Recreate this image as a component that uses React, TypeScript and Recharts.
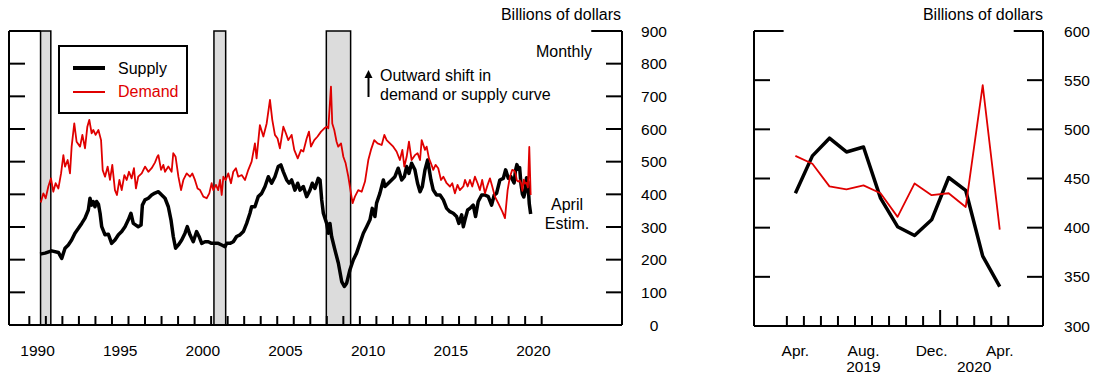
import { LineChart, Line, XAxis, YAxis, ReferenceArea, ReferenceLine } from 'recharts'

const FONT = '"Liberation Sans", Arial, Helvetica, sans-serif'
const RED = '#e00000'

// monthly history: [decimal year, billions of dollars]
const supplyHistory: [number, number][] = [
  [1990.65, 217], [1990.95, 220], [1991.35, 227], [1991.76, 222], [1991.96, 204], [1992.16, 235],
  [1992.36, 245], [1992.56, 260], [1992.76, 281], [1992.97, 296], [1993.17, 311], [1993.37, 327],
  [1993.57, 352], [1993.67, 388], [1993.77, 367], [1993.87, 378], [1993.97, 362], [1994.07, 378],
  [1994.18, 370], [1994.28, 342], [1994.38, 301], [1994.58, 276], [1994.78, 278], [1994.98, 250],
  [1995.18, 260], [1995.39, 276], [1995.59, 286], [1995.79, 301], [1995.99, 322], [1996.15, 342],
  [1996.29, 311], [1996.59, 301], [1996.76, 306], [1996.84, 367], [1997.0, 383], [1997.2, 388],
  [1997.4, 398], [1997.6, 404], [1997.81, 408], [1998.01, 398], [1998.21, 388], [1998.41, 362],
  [1998.57, 322], [1998.71, 271], [1998.85, 235], [1999.02, 245], [1999.22, 260], [1999.42, 281],
  [1999.56, 301], [1999.72, 276], [1999.92, 255], [2000.12, 286], [2000.27, 271], [2000.43, 250],
  [2000.63, 255], [2000.83, 255], [2001.03, 250], [2001.23, 250], [2001.43, 250], [2001.64, 245],
  [2001.84, 240], [2001.94, 250], [2002.14, 250], [2002.34, 255], [2002.54, 271], [2002.75, 276],
  [2002.95, 286], [2003.15, 311], [2003.35, 342], [2003.45, 362], [2003.65, 362], [2003.85, 393],
  [2004.06, 403], [2004.26, 424], [2004.46, 454], [2004.66, 434], [2004.86, 454], [2005.06, 485],
  [2005.22, 490], [2005.37, 469], [2005.57, 444], [2005.72, 434], [2005.87, 444], [2006.07, 413],
  [2006.24, 434], [2006.38, 413], [2006.58, 424], [2006.78, 393], [2006.98, 413], [2007.12, 434],
  [2007.28, 418], [2007.48, 449], [2007.59, 444], [2007.69, 383], [2007.79, 342], [2007.99, 311],
  [2008.09, 281], [2008.19, 311], [2008.29, 271], [2008.49, 230], [2008.7, 189], [2008.9, 133],
  [2009.06, 118], [2009.2, 128], [2009.4, 169], [2009.6, 199], [2009.8, 220], [2010.0, 250],
  [2010.21, 281], [2010.41, 301], [2010.61, 322], [2010.75, 357], [2010.91, 332], [2011.01, 373],
  [2011.21, 403], [2011.42, 444], [2011.52, 424], [2011.72, 434], [2011.92, 444], [2012.12, 454],
  [2012.32, 480], [2012.53, 444], [2012.69, 454], [2012.83, 485], [2012.97, 464], [2013.13, 495],
  [2013.33, 475], [2013.49, 434], [2013.64, 408], [2013.78, 424], [2013.94, 475], [2014.1, 505],
  [2014.3, 444], [2014.44, 413], [2014.64, 398], [2014.85, 398], [2015.05, 383], [2015.25, 357],
  [2015.45, 347], [2015.65, 342], [2015.85, 332], [2015.99, 311], [2016.16, 337], [2016.26, 301],
  [2016.36, 322], [2016.52, 352], [2016.66, 357], [2016.86, 367], [2017.0, 332], [2017.16, 378],
  [2017.37, 398], [2017.57, 398], [2017.77, 393], [2017.97, 367], [2018.13, 398], [2018.27, 403],
  [2018.47, 444], [2018.68, 449], [2018.82, 475], [2018.98, 449], [2019.14, 454],
]

const demandHistory: [number, number][] = [
  [1990.69, 375], [1990.85, 403], [1990.99, 388], [1991.15, 424], [1991.31, 449], [1991.45, 408],
  [1991.59, 434], [1991.76, 418], [1991.92, 464], [1992.06, 520], [1992.16, 485], [1992.32, 505],
  [1992.46, 464], [1992.56, 546], [1992.72, 617], [1992.86, 561], [1993.07, 546], [1993.21, 582],
  [1993.37, 541], [1993.51, 607], [1993.63, 628], [1993.77, 587], [1993.87, 597], [1994.01, 582],
  [1994.18, 597], [1994.34, 566], [1994.44, 474], [1994.58, 454], [1994.74, 485], [1994.88, 444],
  [1995.02, 490], [1995.18, 413], [1995.3, 398], [1995.45, 444], [1995.59, 413], [1995.75, 459],
  [1995.89, 444], [1996.03, 469], [1996.19, 449], [1996.33, 480], [1996.45, 418], [1996.59, 454],
  [1996.8, 464], [1997.0, 485], [1997.2, 469], [1997.4, 480], [1997.6, 497], [1997.74, 515],
  [1997.81, 520], [1997.97, 475], [1998.11, 490], [1998.21, 469], [1998.41, 485], [1998.61, 469],
  [1998.71, 526], [1998.85, 515], [1999.02, 454], [1999.18, 413], [1999.32, 444], [1999.52, 464],
  [1999.72, 454], [1999.86, 464], [2000.02, 444], [2000.18, 418], [2000.33, 413], [2000.53, 393],
  [2000.73, 388], [2000.89, 403], [2001.03, 434], [2001.13, 413], [2001.29, 429], [2001.43, 413],
  [2001.54, 444], [2001.64, 398], [2001.74, 454], [2001.88, 444], [2002.04, 464], [2002.2, 434],
  [2002.34, 469], [2002.5, 480], [2002.64, 454], [2002.85, 459], [2003.05, 444], [2003.25, 475],
  [2003.45, 500], [2003.65, 556], [2003.75, 510], [2003.95, 612], [2004.16, 577], [2004.36, 617],
  [2004.56, 689], [2004.7, 628], [2004.86, 582], [2005.02, 571], [2005.16, 541], [2005.37, 607],
  [2005.5, 590], [2005.67, 566], [2005.87, 582], [2006.03, 536], [2006.24, 510], [2006.44, 536],
  [2006.58, 531], [2006.78, 571], [2006.92, 592], [2007.04, 546], [2007.24, 566], [2007.44, 577],
  [2007.65, 592], [2007.85, 602], [2007.99, 607], [2008.09, 602], [2008.25, 730], [2008.33, 617],
  [2008.45, 597], [2008.59, 561], [2008.69, 546], [2008.86, 556], [2009.0, 515], [2009.14, 495],
  [2009.3, 454], [2009.46, 403], [2009.56, 373], [2009.7, 393], [2009.9, 413], [2010.11, 408],
  [2010.31, 439], [2010.51, 505], [2010.67, 536], [2010.87, 566], [2011.07, 556], [2011.32, 551],
  [2011.48, 582], [2011.62, 566], [2011.82, 556], [2012.02, 546], [2012.22, 531], [2012.42, 505],
  [2012.57, 536], [2012.69, 485], [2012.83, 515], [2012.97, 561], [2013.13, 505], [2013.33, 520],
  [2013.49, 526], [2013.64, 505], [2013.74, 566], [2013.94, 536], [2014.04, 546], [2014.18, 510],
  [2014.3, 495], [2014.44, 475], [2014.58, 490], [2014.74, 480], [2014.91, 444], [2015.05, 454],
  [2015.25, 434], [2015.45, 424], [2015.59, 434], [2015.75, 403], [2015.91, 429], [2016.05, 413],
  [2016.26, 424], [2016.36, 444], [2016.52, 424], [2016.66, 444], [2016.8, 424], [2016.96, 454],
  [2017.12, 434], [2017.26, 413], [2017.4, 444], [2017.57, 403], [2017.73, 429], [2017.87, 449],
  [2018.01, 424], [2018.17, 393], [2018.37, 373], [2018.62, 347], [2018.78, 327], [2018.94, 413],
  [2019.08, 454], [2019.22, 475],
]

// last 13 months, Apr. 2019 - Apr. 2020 (also the tail of the long panel)
const recentMonths = ['Apr.', 'May', 'Jun.', 'Jul.', 'Aug.', 'Sep.', 'Oct.', 'Nov.', 'Dec.', 'Jan.', 'Feb.', 'Mar.', 'Apr.']
const recentSupply = [435, 473, 491, 477, 482, 430, 401, 392, 408, 451, 438, 371, 340]
const recentDemand = [473, 465, 442, 439, 443, 435, 411, 445, 433, 435, 421, 545, 398]
const shownMonths = [0, 4, 8, 12]
const recentYears = [{ at: 4, text: '2019' }, { at: 10.5, text: '2020' }]

const recessions: [number, number][] = [[1990.68, 1991.3], [2001.17, 2001.88], [2007.97, 2009.44]]
const yearLabels = [1990, 1995, 2000, 2005, 2010, 2015, 2020]
const leftValueTicks = [0, 100, 200, 300, 400, 500, 600, 700, 800, 900]
const rightValueTicks = [300, 350, 400, 450, 500, 550, 600]

const LEFT_X: [number, number] = [1988.77, 2025.86]
const RIGHT_X: [number, number] = [-2.43, 14.54]

const tailYear = (i: number) => 2019 + (4 + i) / 12
const supplyData = [
  ...supplyHistory.map(([t, v]) => ({ t, v })),
  ...recentSupply.map((v, i) => ({ t: tailYear(i), v })),
]
const demandData = [
  ...demandHistory.map(([t, v]) => ({ t, v })),
  ...recentDemand.map((v, i) => ({ t: tailYear(i), v })),
]
const recentData = recentMonths.map((m, i) => ({ i, m, supply: recentSupply[i], demand: recentDemand[i] }))

const yearBounds = Array.from({ length: 32 }, (_, k) => 1990 + k)
const leftXTicks = [...yearBounds, ...yearLabels.map(y => y + 0.5)].sort((a, b) => a - b)
const monthBounds = recentMonths.map((_, i) => i - 0.5).concat([recentMonths.length - 0.5])
const rightXTicks = Array.from(new Set([...monthBounds, ...shownMonths, ...recentYears.map(y => y.at)])).sort((a, b) => a - b)

const tickText = { fontSize: 15.5, fontFamily: FONT, fill: '#000' }
const frame = { stroke: '#000', strokeWidth: 2 }

function InnerLeftTick({ x, y, payload, skip }: any) {
  if (skip.includes(payload.value)) return <g />
  return <line x1={x} x2={x + 16} y1={y} y2={y} {...frame} />
}

function InnerRightTick({ x, y, payload, skip, offset }: any) {
  return (
    <g>
      {!skip.includes(payload.value) && <line x1={x - 16} x2={x} y1={y} y2={y} {...frame} />}
      <text x={x + offset} y={y + 5.5} textAnchor="middle" {...tickText}>{payload.value}</text>
    </g>
  )
}

function YearTick({ x, y, payload }: any) {
  const v = payload.value as number
  if (Number.isInteger(v)) return <line x1={x} x2={x} y1={y} y2={y - 9} {...frame} />
  return <text x={x} y={y + 31} textAnchor="middle" {...tickText}>{Math.floor(v)}</text>
}

function MonthTick({ x, y, payload }: any) {
  const v = payload.value as number
  const isBound = Math.abs(v - Math.floor(v) - 0.5) < 1e-6
  const year = recentYears.find(r => r.at === v)
  return (
    <g>
      {isBound && <line x1={x} x2={x} y1={y} y2={y - (v === 8.5 ? 16 : 10)} {...frame} />}
      {shownMonths.includes(v) && <text x={x} y={y + 30} textAnchor="middle" {...tickText}>{recentMonths[v]}</text>}
      {year && <text x={x} y={y + 46} textAnchor="middle" {...tickText}>{year.text}</text>}
    </g>
  )
}

function Note({ x, y, text, anchor = 'start', color = '#000', size = 16 }: any) {
  const shift = anchor === 'end' ? '-100%' : anchor === 'middle' ? '-50%' : '0'
  return (
    <div style={{
      position: 'absolute', left: x, top: y - size * 0.6, fontSize: size, lineHeight: `${size * 1.2}px`,
      whiteSpace: 'nowrap', color, transform: `translateX(${shift})`, fontFamily: FONT,
    }}>{text}</div>
  )
}

export default function App() {
  return (
    <div style={{ position: 'absolute', left: 0, top: 0, width: 1100, height: 382, background: '#fff', overflow: 'hidden' }}>
      <div style={{ position: 'absolute', left: 0, top: 0 }}>
        <LineChart width={700} height={382} margin={{ top: 31, right: 0, bottom: 0, left: 0 }}>
          <XAxis dataKey="t" type="number" domain={LEFT_X} ticks={leftXTicks} interval={0}
            axisLine={frame} tickLine={false} tickSize={0} tickMargin={0} height={57} tick={(p: any) => <YearTick {...p} />} />
          <YAxis yAxisId="l" orientation="left" type="number" domain={[0, 900]} ticks={leftValueTicks} interval={0} width={9}
            axisLine={frame} tickLine={false} tickSize={0} tickMargin={0} tick={(p: any) => <InnerLeftTick {...p} skip={[0, 900]} />} />
          <YAxis yAxisId="r" orientation="right" type="number" domain={[0, 900]} ticks={leftValueTicks} interval={0} width={78}
            axisLine={frame} tickLine={false} tickSize={0} tickMargin={0} tick={(p: any) => <InnerRightTick {...p} skip={[0, 900]} offset={32} />} />
          {recessions.map(([a, b]) => (
            <ReferenceArea key={a} yAxisId="r" x1={a} x2={b} y1={0} y2={900} fill="#dcdcdc" fillOpacity={1} stroke="#000" strokeWidth={1.5} />
          ))}
          <ReferenceLine yAxisId="r" x={LEFT_X[0]} ifOverflow="visible" {...frame} />
          <ReferenceLine yAxisId="r" x={LEFT_X[1]} ifOverflow="visible" {...frame} />
          <ReferenceLine yAxisId="r" segment={[{ x: LEFT_X[0], y: 900 }, { x: recessions[0][0], y: 900 }]} {...frame} />
          <ReferenceLine yAxisId="r" segment={[{ x: 2024.0, y: 900 }, { x: LEFT_X[1], y: 900 }]} {...frame} />
          <Line yAxisId="r" data={supplyData} dataKey="v" type="linear" stroke="#000" strokeWidth={3.5} dot={false} strokeLinejoin="round" isAnimationActive={false} />
          <Line yAxisId="l" data={demandData} dataKey="v" type="linear" stroke={RED} strokeWidth={1.8} dot={false} strokeLinejoin="round" isAnimationActive={false} />
        </LineChart>
      </div>

      <div style={{ position: 'absolute', left: 730, top: 0 }}>
        <LineChart width={370} height={382} data={recentData} margin={{ top: 31, right: 0, bottom: 0, left: 0 }}>
          <XAxis dataKey="i" type="number" domain={RIGHT_X} ticks={rightXTicks} interval={0}
            axisLine={frame} tickLine={false} tickSize={0} tickMargin={0} height={56} tick={(p: any) => <MonthTick {...p} />} />
          <YAxis yAxisId="l" orientation="left" type="number" domain={[300, 600]} ticks={rightValueTicks} interval={0} width={24}
            axisLine={frame} tickLine={false} tickSize={0} tickMargin={0} tick={(p: any) => <InnerLeftTick {...p} skip={[300, 600]} />} />
          <YAxis yAxisId="r" orientation="right" type="number" domain={[300, 600]} ticks={rightValueTicks} interval={0} width={57}
            axisLine={frame} tickLine={false} tickSize={0} tickMargin={0} tick={(p: any) => <InnerRightTick {...p} skip={[300, 600]} offset={34} />} />
          <ReferenceLine yAxisId="r" x={RIGHT_X[0]} ifOverflow="visible" {...frame} />
          <ReferenceLine yAxisId="r" x={RIGHT_X[1]} ifOverflow="visible" {...frame} />
          <ReferenceLine yAxisId="r" segment={[{ x: RIGHT_X[0], y: 600 }, { x: -0.69, y: 600 }]} {...frame} />
          <ReferenceLine yAxisId="r" segment={[{ x: 12.82, y: 600 }, { x: RIGHT_X[1], y: 600 }]} {...frame} />
          <Line yAxisId="r" dataKey="supply" type="linear" stroke="#000" strokeWidth={3.5} dot={false} strokeLinejoin="round" isAnimationActive={false} />
          <Line yAxisId="l" dataKey="demand" type="linear" stroke={RED} strokeWidth={1.8} dot={false} strokeLinejoin="round" isAnimationActive={false} />
        </LineChart>
      </div>

      {/* legend */}
      <div style={{ position: 'absolute', left: 58, top: 45, width: 130, height: 69, border: '2px solid #000', boxSizing: 'border-box', background: '#fff' }} />
      <div style={{ position: 'absolute', left: 73, top: 66, width: 32, height: 3.5, background: '#000' }} />
      <div style={{ position: 'absolute', left: 73, top: 91, width: 32, height: 2, background: RED }} />
      <Note x={118} y={69} text="Supply" />
      <Note x={118} y={92} text="Demand" color={RED} />

      {/* annotations */}
      <Note x={621} y={15} text="Billions of dollars" anchor="end" />
      <Note x={1043} y={15} text="Billions of dollars" anchor="end" />
      <Note x={592} y={52} text="Monthly" anchor="end" />
      <Note x={380} y={76} text="Outward shift in" />
      <Note x={380} y={94.5} text="demand or supply curve" />
      <Note x={567} y={205} text="April" anchor="middle" />
      <Note x={567} y={224} text="Estim." anchor="middle" />
      <svg width={1100} height={382} style={{ position: 'absolute', left: 0, top: 0, pointerEvents: 'none' }}>
        <line x1={368.5} x2={368.5} y1={97} y2={74} stroke="#000" strokeWidth={2} />
        <polygon points="364.5,78 368.5,70 372.5,78" fill="#000" />
      </svg>
    </div>
  )
}
